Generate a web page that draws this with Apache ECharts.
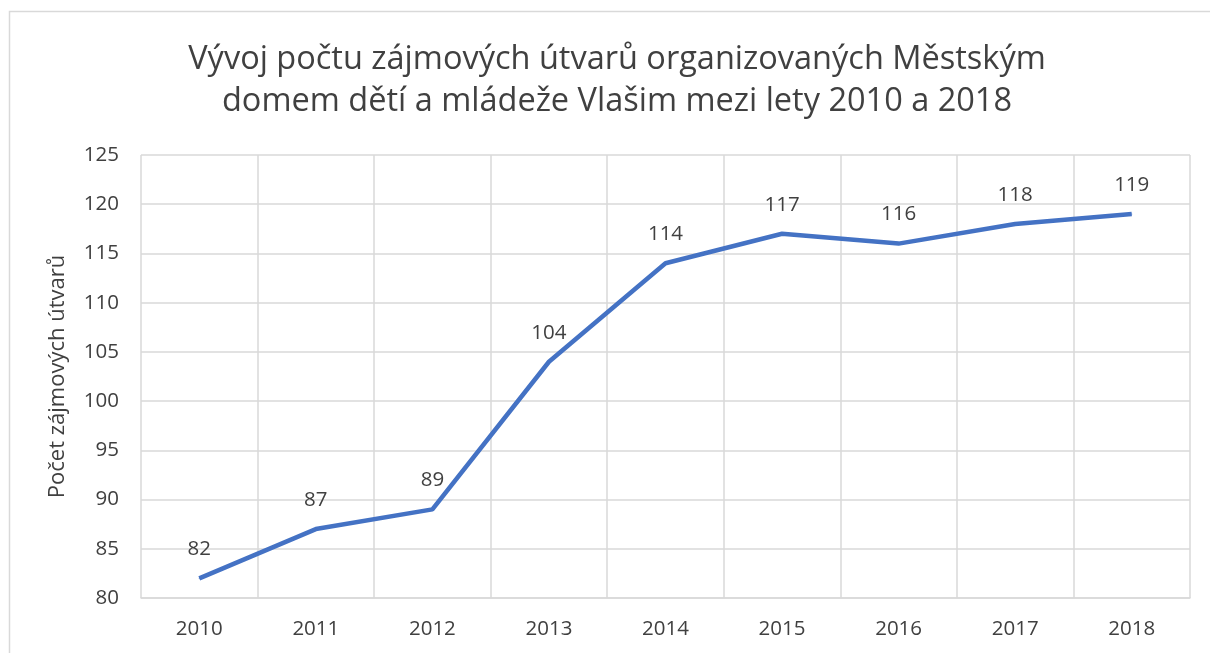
<!DOCTYPE html>
<html>
<head>
<meta charset="utf-8">
<script src="https://cdn.jsdelivr.net/npm/echarts@6/dist/echarts.min.js"></script>
<style>
html, body { margin: 0; padding: 0; background: #fff; }
#Chart { width: 1210px; height: 653px; }
</style>
</head>
<body>
<div id="Chart"></div>
<script>
var years = ['2010', '2011', '2012', '2013', '2014', '2015', '2016', '2017', '2018'];
var counts = [82, 87, 89, 104, 114, 117, 116, 118, 119];
var yTicks = { min: 80, max: 125, step: 5 };

var myChart = echarts.init(document.getElementById('Chart'));
var font = '"Open Sans", "Noto Sans", sans-serif';

var option = {
    backgroundColor: '#fff',
    textStyle: { fontFamily: font },
    graphic: [{
        // frame of the chart area (left + top edge visible)
        type: 'rect',
        shape: { x: 9.5, y: 11.5, width: 1300, height: 800 },
        style: { fill: 'none', stroke: '#d9d9d9', lineWidth: 1.5 },
        silent: true
    }],
    title: {
        text: 'Vývoj počtu zájmových útvarů organizovaných Městským\ndomem dětí a mládeže Vlašim mezi lety 2010 a 2018',
        left: 612,
        textAlign: 'center',
        top: 34,
        textStyle: {
            fontFamily: font,
            fontWeight: 'normal',
            fontSize: 32.5,
            lineHeight: 42,
            color: '#404040'
        }
    },
    grid: {
        left: 141,
        right: 20,
        top: 155,
        bottom: 55
    },
    xAxis: {
        type: 'category',
        data: years,
        boundaryGap: true,
        axisLine: { lineStyle: { color: '#d9d9d9', width: 1.5 } },
        axisTick: { show: false },
        splitLine: { show: true, lineStyle: { color: '#d9d9d9', width: 1.5 } },
        axisLabel: { color: '#404040', fontSize: 20.5, margin: 21, fontFamily: font }
    },
    yAxis: {
        type: 'value',
        min: yTicks.min,
        max: yTicks.max,
        interval: yTicks.step,
        name: 'Počet zájmových útvarů',
        nameLocation: 'middle',
        nameGap: 72,
        nameRotate: 90,
        nameTextStyle: { color: '#404040', fontSize: 22, fontFamily: font },
        axisLine: { show: false },
        axisTick: { show: false },
        splitLine: { lineStyle: { color: '#d9d9d9', width: 1.5 } },
        axisLabel: { color: '#404040', fontSize: 20.5, margin: 22, fontFamily: font }
    },
    series: [{
        type: 'line',
        data: counts,
        symbol: 'circle',
        symbolSize: 1,
        showSymbol: true,
        itemStyle: { color: '#4472C4' },
        lineStyle: { color: '#4472C4', width: 4.5 },
        label: {
            show: true,
            position: 'top',
            distance: 18,
            color: '#404040',
            fontSize: 20.5,
            fontFamily: font
        }
    }]
};

myChart.setOption(option);
</script>
</body>
</html>
